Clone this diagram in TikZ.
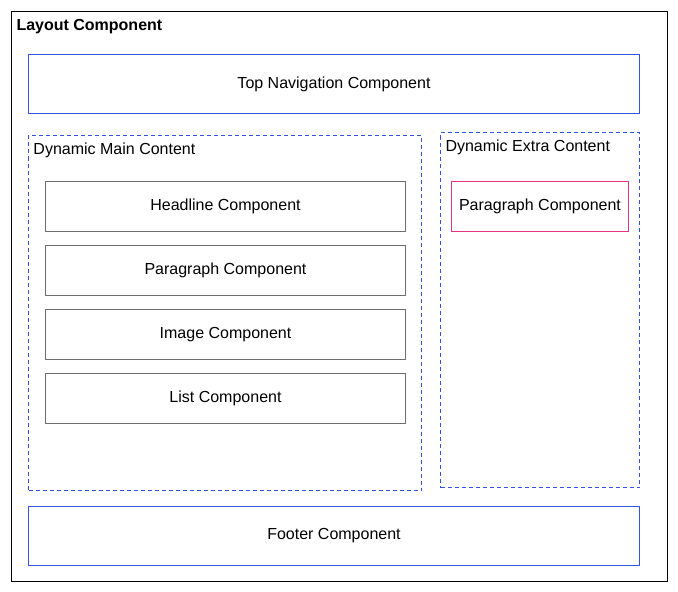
\documentclass[tikz,border=0pt]{standalone}
\usepackage{fontspec}
\setmainfont{Liberation Sans}
\usetikzlibrary{positioning}
\definecolor{layoutline}{RGB}{0,0,0}
\definecolor{fixedline}{RGB}{51,85,221}
\definecolor{slotline}{RGB}{51,85,221}
\definecolor{partline}{RGB}{110,110,110}
\definecolor{extraline}{RGB}{230,50,130}
\tikzstyle{every path}=[line width=0.75pt]
\tikzstyle{every node}=[font=\fontsize{12}{14}\selectfont, inner sep=0pt]
\tikzstyle{layout}=[draw=layoutline, anchor=north west, minimum width=492pt, minimum height=427.5pt]
\tikzstyle{fixed}=[draw=fixedline, anchor=north west, minimum width=458.25pt, minimum height=44.25pt]
\tikzstyle{slot}=[draw=slotline, dash pattern=on 3pt off 2.25pt, anchor=north west]
\tikzstyle{part}=[draw=partline, anchor=north west, minimum width=270pt, minimum height=37.5pt]
\tikzstyle{heading}=[anchor=west]

\begin{document}
\begin{tikzpicture}[x=0.75pt, y=-0.75pt]
    \useasboundingbox (0,0) rectangle (678,592);
    \node[layout] (layout) at (11,11) {};
    \node[heading, font=\fontsize{12}{14}\selectfont\bfseries] (layouttitle) at (16,27) {Layout Component};

    \node[fixed] (topnav) at (28,54) {\raisebox{-1pt}{Top Navigation Component}};

    \node[slot, minimum width=294.75pt, minimum height=266.25pt] (mainslot) at (28,135) {};
    \node[heading] (maintitle) at (33,150) {Dynamic Main Content};
    \node[slot, minimum width=149.25pt, minimum height=266.25pt] (extraslot) at (440,132) {};
    \node[heading] (extratitle) at (445,147) {Dynamic Extra Content};

    \node[part] (headline) at (45,181) {\raisebox{-1pt}{Headline Component}};
    \node[part, below=9.75pt of headline] (paragraph) {\raisebox{-1pt}{Paragraph Component}};
    \node[part, below=9.75pt of paragraph] (image) {\raisebox{-1pt}{Image Component}};
    \node[part, below=9.75pt of image] (list) {\raisebox{-1pt}{List Component}};

    \node[part, draw=extraline, minimum width=132.75pt] (extrapara) at (451,181) {\raisebox{-1pt}{Paragraph Component}};

    \node[fixed] (footer) at (28,506) {\raisebox{-1pt}{Footer Component}};
\end{tikzpicture}
\end{document}
